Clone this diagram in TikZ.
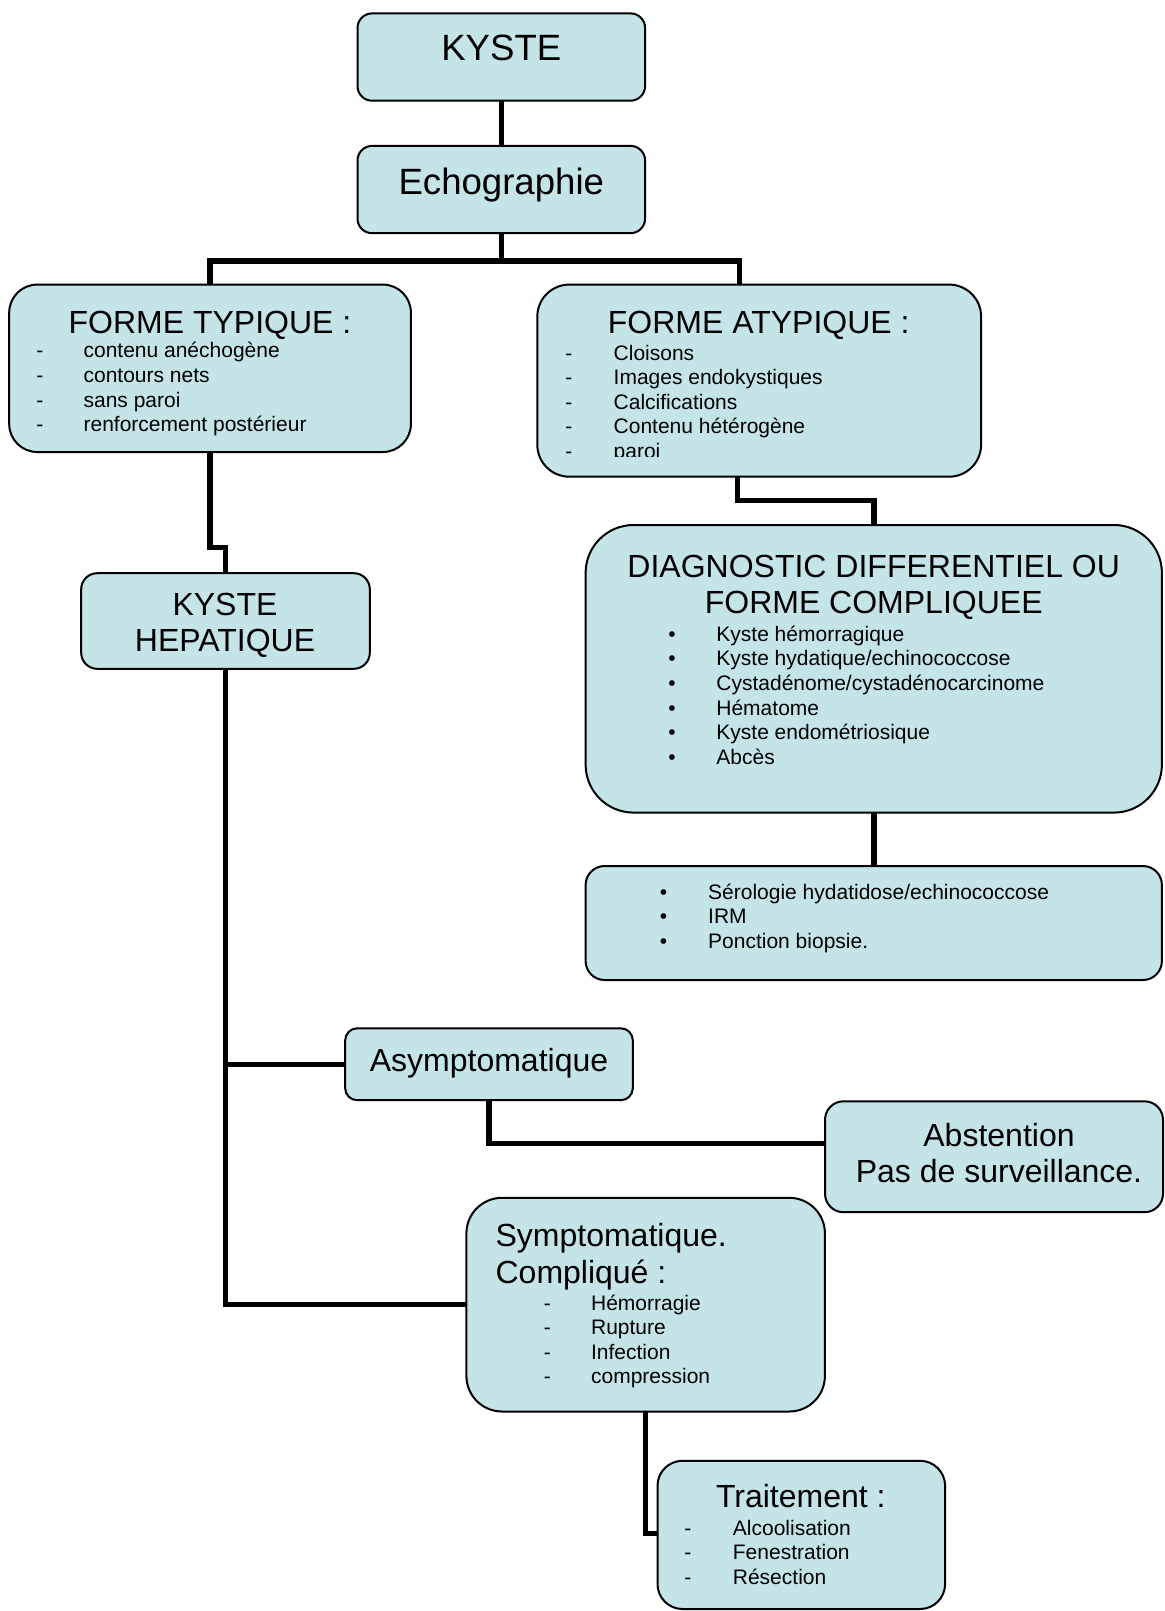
\documentclass[tikz,border=0pt]{standalone}
\usepackage{fontspec}
\setmainfont{Liberation Sans}
\usetikzlibrary{backgrounds}
\definecolor{boxblue}{RGB}{197,228,232}
\tikzset{
  box/.style={fill=boxblue, draw=black, line width=1pt, inner sep=0pt, outer sep=0pt},
  conn/.style={draw=black, line width=2.75pt, line join=miter},
  big/.style={font=\fontsize{16}{18}\selectfont, inner sep=0pt},
  huge/.style={font=\fontsize{18.3}{21}\selectfont, inner sep=0pt},
  small/.style={font=\fontsize{10.5}{12.3}\selectfont, inner sep=0pt},
}
\begin{document}
\begin{tikzpicture}[x=0.5pt,y=-0.5pt]
\useasboundingbox (0,0) rectangle (1165,1611);

% boxes
\node[box, minimum width=143.8pt, minimum height=43.65pt, rounded corners=7.3pt] (kyste) at (501.3,57.05) {};
\node[box, minimum width=143.8pt, minimum height=43.65pt, rounded corners=7.3pt] (echo) at (501.3,189.55) {};
\node[box, minimum width=200.85pt, minimum height=83.7pt, rounded corners=14pt] (typ) at (210.05,368.3) {};
\node[box, minimum width=221.9pt, minimum height=96.05pt, rounded corners=16pt] (atyp) at (759.2,380.65) {};
\node[box, minimum width=288.15pt, minimum height=143.8pt, rounded corners=24pt] (diag) at (873.75,668.8) {};
\node[box, minimum width=288.15pt, minimum height=57pt, rounded corners=9.5pt] (sero) at (873.75,923) {};
\node[box, minimum width=144.3pt, minimum height=47.8pt, rounded corners=8pt] (kh) at (225.5,621) {};
\node[box, minimum width=143.8pt, minimum height=35.95pt, rounded corners=6pt] (asym) at (489,1064.25) {};
\node[box, minimum width=169pt, minimum height=55.45pt, rounded corners=9.25pt] (abst) at (994,1156.75) {};
\node[box, minimum width=179.25pt, minimum height=106.85pt, rounded corners=17.8pt] (symp) at (645.65,1304.65) {};
\node[box, minimum width=143.8pt, minimum height=74.1pt, rounded corners=12.5pt] (trait) at (801.3,1534.9) {};

% free connector ends
\coordinate (j1) at (501.3,261);
\coordinate (atypin) at (739.7,284.6);
\coordinate (atypout) at (737.6,476.7);
\coordinate (abstin) at (825,1143.4);
\coordinate (traitin) at (657.5,1533.7);

\begin{pgfonlayer}{background}
\fill[white] (0,0) rectangle (1165,1611);
\draw[conn] (kyste.south) -- (echo.north);
\draw[conn] (echo.south) -- (j1);
\draw[conn] (j1) -| (typ.north);
\draw[conn] (j1) -| (atypin);
\draw[conn] (atypout) -- ++(0,23.6) -| (diag.north);
\draw[conn] (diag.south) -- (sero.north);
\draw[conn] (typ.south) -- ++(0,95.5) -| (kh.north);
\draw[conn] (kh.south) |- (symp.west);
\draw[conn] (kh.south |- asym.west) -- (asym.west);
\draw[conn] (asym.south) |- (abstin);
\draw[conn] (symp.south) |- (traitin);
\end{pgfonlayer}

% texts
\node[huge, anchor=base] (tkyste) at (501.3,61) {KYSTE};
\node[huge, anchor=base] (techo) at (501.3,194) {Echographie};

\node[big, anchor=base] (ttyp) at (210,333) {FORME TYPIQUE :};
\foreach \t [count=\i from 0] in {contenu anéchogène, contours nets, sans paroi, renforcement postérieur} {
  \node[small, anchor=base west] at (36,357.8+24.65*\i) {-};
  \node[small, anchor=base west] at (83.2,357.8+24.65*\i) {\t};
}

\node[big, anchor=base] (tatyp) at (758.7,333) {FORME ATYPIQUE :};
\begin{scope}
\clip (540,340) rectangle (980,456.5);
\foreach \t [count=\i from 0] in {Cloisons, Images endokystiques, Calcifications, Contenu hétérogène, paroi} {
  \node[small, anchor=base west] at (565,360+24.65*\i) {-};
  \node[small, anchor=base west] at (613.3,360+24.65*\i) {\t};
}
\end{scope}

\node[big, anchor=base] (tdiag1) at (873.7,577.5) {DIAGNOSTIC DIFFERENTIEL OU};
\node[big, anchor=base] (tdiag2) at (873.7,613.5) {FORME COMPLIQUEE};
\foreach \t [count=\i from 0] in {Kyste hémorragique, Kyste hydatique/echinococcose, Cystadénome/cystadénocarcinome, Hématome, Kyste endométriosique, Abcès} {
  \node[small, anchor=base] at (672,641.3+24.65*\i) {•};
  \node[small, anchor=base west] at (716,641.3+24.65*\i) {\t};
}

\foreach \t [count=\i from 0] in {Sérologie hydatidose/echinococcose, IRM, Ponction biopsie.} {
  \node[small, anchor=base] at (663.6,899.2+24.65*\i) {•};
  \node[small, anchor=base west] at (707.8,899.2+24.65*\i) {\t};
}

\node[big, anchor=base] (tkh1) at (225,615.5) {KYSTE};
\node[big, anchor=base] (tkh2) at (225,651.5) {HEPATIQUE};

\node[big, anchor=base] (tasym) at (489,1071.5) {Asymptomatique};

\node[big, anchor=base] (tabst1) at (999,1146.5) {Abstention};
\node[big, anchor=base] (tabst2) at (999,1182.5) {Pas de surveillance.};

\node[big, anchor=base west] (tsymp1) at (495.2,1246.3) {Symptomatique.};
\node[big, anchor=base west] (tsymp2) at (495.2,1283.3) {Compliqué :};
\foreach \t [count=\i from 0] in {Hémorragie, Rupture, Infection, compression} {
  \node[small, anchor=base west] at (543.5,1310+24.65*\i) {-};
  \node[small, anchor=base west] at (590.7,1310+24.65*\i) {\t};
}

\node[big, anchor=base] (ttrait) at (800.8,1507.3) {Traitement :};
\foreach \t [count=\i from 0] in {Alcoolisation, Fenestration, Résection} {
  \node[small, anchor=base west] at (684,1535+24.65*\i) {-};
  \node[small, anchor=base west] at (732.5,1535+24.65*\i) {\t};
}
\end{tikzpicture}
\end{document}
